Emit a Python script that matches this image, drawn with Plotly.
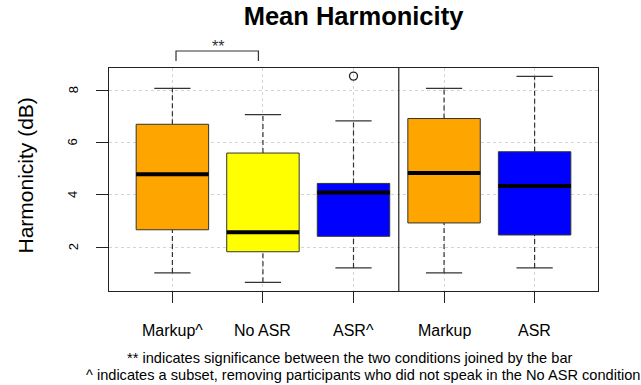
import plotly.graph_objects as go

# ---- data ----
categories = ["Markup^", "No ASR", "ASR^", "Markup", "ASR"]
lower_whisker = [1.02, 0.66, 1.21, 1.02, 1.21]
q1 = [2.67, 1.83, 2.42, 2.93, 2.47]
median = [4.79, 2.57, 4.09, 4.84, 4.34]
q3 = [6.70, 5.60, 4.44, 6.92, 5.65]
upper_whisker = [8.07, 7.07, 6.83, 8.07, 8.53]
outlier_x = ["ASR^"]
outlier_y = [8.54]
y_ticks = [2, 4, 6, 8]
colors = ["#FFA500", "#FFFF00", "#0000FF", "#FFA500", "#0000FF"]
group1_size = 3
sig_pair = ("Markup^", "No ASR")
title = "Mean Harmonicity"
y_title = "Harmonicity (dB)"
footnotes = ["** indicates significance between the two conditions joined by the bar",
             "^ indicates a subset, removing participants who did not speak in the No ASR condition"]

FONT = "Liberation Sans, Arial, sans-serif"
pos = {c: i + 1 for i, c in enumerate(categories)}
xr = [0.3, len(categories) + 0.7]
yr = [0.33, 8.85]
bw = 0.4
cw = 0.2
foot_xshift = [-4, 9]

fig = go.Figure()
for i, c in enumerate(categories):
    p = pos[c]
    # whiskers
    fig.add_trace(go.Scatter(x=[p, p, None, p, p],
                             y=[lower_whisker[i], q1[i], None, q3[i], upper_whisker[i]],
                             mode="lines", line=dict(color="#333333", width=1.2, dash="5px,3px"),
                             hoverinfo="skip", showlegend=False))
    # caps
    fig.add_trace(go.Scatter(x=[p - cw, p + cw, None, p - cw, p + cw],
                             y=[lower_whisker[i], lower_whisker[i], None, upper_whisker[i], upper_whisker[i]],
                             mode="lines", line=dict(color="#333333", width=1.2),
                             hoverinfo="skip", showlegend=False))
    # box
    fig.add_trace(go.Scatter(x=[p - bw, p + bw, p + bw, p - bw, p - bw],
                             y=[q1[i], q1[i], q3[i], q3[i], q1[i]],
                             mode="lines", fill="toself", fillcolor=colors[i],
                             line=dict(color="#333333", width=1),
                             hoverinfo="skip", showlegend=False))
    # median
    fig.add_trace(go.Scatter(x=[p - bw, p + bw], y=[median[i], median[i]],
                             mode="lines", line=dict(color="black", width=4),
                             hoverinfo="skip", showlegend=False))

fig.add_trace(go.Scatter(x=[pos[c] for c in outlier_x], y=outlier_y, mode="markers",
                         marker=dict(symbol="circle-open", size=8, color="#222222", line=dict(width=1.3)),
                         cliponaxis=False, showlegend=False))

def ypaper(v):
    return (v - yr[0]) / (yr[1] - yr[0])

shapes = [dict(type="line", xref="x", yref="paper", x0=group1_size + 0.5, x1=group1_size + 0.5,
               y0=0, y1=1, line=dict(color="#222222", width=1.2))]
sx0 = pos[sig_pair[0]] + 0.04
sx1 = pos[sig_pair[1]] - 0.05
shapes.append(dict(type="path", xref="x", yref="paper",
                   path=f"M {sx0},{ypaper(9.12)} L {sx0},{ypaper(9.5)} L {sx1},{ypaper(9.5)} L {sx1},{ypaper(9.12)}",
                   line=dict(color="#333333", width=1.2)))

ann = []
ann.append(dict(text="**", x=(pos[sig_pair[0]] + pos[sig_pair[1]]) / 2, xref="x",
                y=ypaper(9.5), yref="paper", yshift=-6, yanchor="bottom", showarrow=False,
                font=dict(family=FONT, size=16, color="#333333")))
for c in categories:
    ann.append(dict(text=c, x=pos[c], xref="x", y=0, yref="paper", yshift=-39,
                    xanchor="center", yanchor="middle", showarrow=False,
                    font=dict(family=FONT, size=16, color="black")))
for t in y_ticks:
    ann.append(dict(text=str(t), x=0, xref="paper", xshift=-36, y=t, yref="y",
                    textangle=-90, xanchor="center", yanchor="middle", showarrow=False,
                    font=dict(family=FONT, size=13, color="black")))
ann.append(dict(text=y_title, x=0, xref="paper", xshift=-84, y=0.5, yref="paper", yshift=4,
                textangle=-90, xanchor="center", yanchor="middle", showarrow=False,
                font=dict(family=FONT, size=21, color="black")))
for k, ftxt in enumerate(footnotes):
    ann.append(dict(text=ftxt, x=0.5, xref="paper", xshift=foot_xshift[k],
                    y=0, yref="paper", yshift=-(67 + 16.7 * k),
                    xanchor="center", yanchor="middle", showarrow=False,
                    font=dict(family=FONT, size=14.6, color="black")))

fig.update_layout(
    width=641, height=385,
    margin=dict(l=109, r=43, t=68, b=94),
    paper_bgcolor="white", plot_bgcolor="white",
    title=dict(text=f"<b>{title}</b>", x=0.5, xref="paper", xanchor="center",
               y=1 - 16 / 385, yref="container", yanchor="middle",
               font=dict(family=FONT, size=25.5, color="black")),
    xaxis=dict(range=xr, tickvals=list(pos.values()), showticklabels=False,
               showgrid=True, gridcolor="#D3D3D3", griddash="dot", gridwidth=1,
               showline=True, mirror=True, linecolor="#222222", linewidth=1.2,
               ticks="outside", ticklen=11, tickcolor="#222222", zeroline=False),
    yaxis=dict(range=yr, tickvals=y_ticks, showticklabels=False,
               showgrid=True, gridcolor="#D3D3D3", griddash="dot", gridwidth=1,
               showline=True, mirror=True, linecolor="#222222", linewidth=1.2,
               ticks="outside", ticklen=12, tickcolor="#222222", zeroline=False),
    shapes=shapes, annotations=ann,
)

fig.write_html("out.html")
